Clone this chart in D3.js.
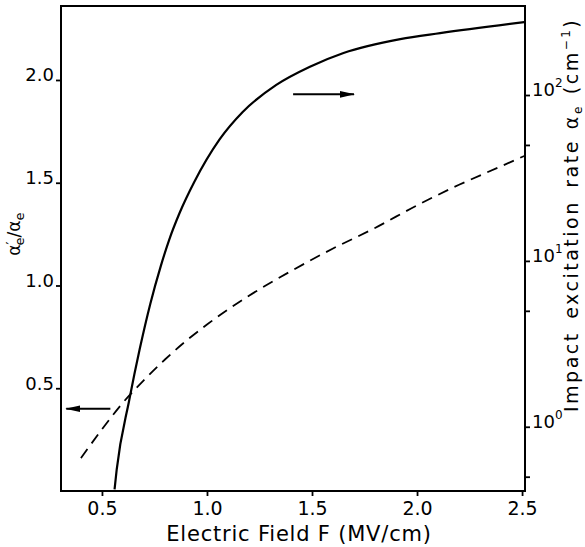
<!DOCTYPE html>
<html>
<head>
<meta charset="utf-8">
<script src="https://cdn.jsdelivr.net/npm/d3@7"></script>
<style>
body { margin: 0; background: #fff; }
text { font-family: "DejaVu Sans", sans-serif; fill: #000; }
</style>
</head>
<body>
<svg id="chart" width="585" height="547"></svg>
<script>
// solid curve: impact excitation rate alpha_e (cm^-1) vs field F (MV/cm), right log axis
const fieldSolid = [0.56, 0.57, 0.63, 0.68, 0.73, 0.78, 0.82, 0.87, 0.94, 1.06, 1.17, 1.33, 1.49, 1.65, 1.92, 2.11, 2.51];
const alphaE = [0.42, 0.55, 1.45, 2.95, 5.5, 9.3, 13.4, 19.5, 30, 54, 79, 115, 148, 179, 217, 236, 275];

// dashed curve: alpha'_e / alpha_e, left linear axis
const fieldDashed = [0.4, 0.5, 0.6, 0.7, 0.8, 0.9, 1.0, 1.2, 1.4, 1.6, 1.8, 2.0, 2.2, 2.4, 2.51];
const ratio = [0.16, 0.30, 0.43, 0.54, 0.64, 0.73, 0.81, 0.95, 1.07, 1.18, 1.28, 1.39, 1.49, 1.58, 1.63];

const xTicks = [0.5, 1.0, 1.5, 2.0, 2.5];
const leftTicks = [0.5, 1.0, 1.5, 2.0];
const rightMajor = [1, 10, 100];
const rightMinor = [0.5, 5, 50];

// arrows: [F from, F to, level on left axis]
const arrowRight = [1.41, 1.70, 1.93];
const arrowLeft = [0.54, 0.33, 0.40];

const xLabel = "Electric Field F (MV/cm)";

// frame edges in px
const frameL = 61, frameR = 525, frameT = 6, frameB = 491;

const svg = d3.select("#chart");

const x = d3.scaleLinear().domain([0.305, 2.514]).range([frameL, frameR]);
const yL = d3.scaleLinear().domain([0, 2.36]).range([frameB, frameT]);
const yR = d3.scaleLog().domain([0.41, 344]).range([frameB, frameT]);

// bottom axis
const gx = svg.append("g")
    .attr("transform", "translate(0," + frameB + ")")
    .call(d3.axisBottom(x).tickValues(xTicks).tickSize(5).tickSizeOuter(0)
          .tickPadding(6).tickFormat(d3.format(".1f")));
gx.select(".domain").remove();
gx.selectAll("line").attr("stroke-width", 1.8);
gx.selectAll("text").attr("font-size", 19).attr("font-family", null);

// left axis
const gl = svg.append("g")
    .attr("transform", "translate(" + frameL + ",0)")
    .call(d3.axisLeft(yL).tickValues(leftTicks).tickSize(5).tickSizeOuter(0)
          .tickPadding(2).tickFormat(d3.format(".1f")));
gl.select(".domain").remove();
gl.selectAll("line").attr("stroke-width", 1.8);
gl.selectAll("text").attr("font-size", 18).attr("dy", "0.05em").attr("font-family", null);

// right axis (log)
const gr = svg.append("g")
    .attr("transform", "translate(" + frameR + ",0)")
    .call(d3.axisRight(yR).tickValues(rightMinor.concat(rightMajor)).tickSize(5)
          .tickSizeOuter(0).tickFormat(""));
gr.select(".domain").remove();
gr.selectAll("line").attr("stroke-width", 1.8);

const rlab = gr.selectAll(".rlab")
    .data(rightMajor)
    .join("text")
    .attr("class", "rlab")
    .attr("x", 7)
    .attr("y", d => yR(d))
    .attr("dy", "0.05em")
    .attr("font-size", 18)
    .text("10");
rlab.append("tspan")
    .attr("font-size", 12)
    .attr("dy", -9)
    .text(d => Math.round(Math.log10(d)));

// frame
svg.append("rect")
    .attr("x", frameL).attr("y", frameT)
    .attr("width", frameR - frameL).attr("height", frameB - frameT)
    .attr("fill", "none").attr("stroke", "#000").attr("stroke-width", 2);

// curves
const solidLine = d3.line()
    .x(d => x(d[0])).y(d => yR(d[1]))
    .curve(d3.curveMonotoneX);

svg.append("path")
    .attr("d", solidLine(d3.zip(fieldSolid, alphaE)))
    .attr("fill", "none").attr("stroke", "#000").attr("stroke-width", 2.2);

const dashedLine = d3.line()
    .x(d => x(d[0])).y(d => yL(d[1]))
    .curve(d3.curveMonotoneX);

svg.append("path")
    .attr("d", dashedLine(d3.zip(fieldDashed, ratio)))
    .attr("fill", "none").attr("stroke", "#000").attr("stroke-width", 1.8)
    .attr("stroke-dasharray", "11,7");

// arrows
svg.append("defs").append("marker")
    .attr("id", "head")
    .attr("markerUnits", "userSpaceOnUse")
    .attr("markerWidth", 15).attr("markerHeight", 8)
    .attr("refX", 14).attr("refY", 4)
    .attr("orient", "auto")
    .append("path")
    .attr("d", "M0,0.7 L15,4 L0,7.3 Z")
    .attr("fill", "#000");

[arrowRight, arrowLeft].forEach(a => {
    svg.append("line")
        .attr("x1", x(a[0])).attr("x2", x(a[1]))
        .attr("y1", yL(a[2])).attr("y2", yL(a[2]))
        .attr("stroke", "#000").attr("stroke-width", 2)
        .attr("marker-end", "url(#head)");
});

// x axis title
svg.append("text")
    .attr("x", (frameL + frameR) / 2 + 6)
    .attr("y", frameB + 50)
    .attr("text-anchor", "middle")
    .attr("font-size", 21)
    .attr("letter-spacing", 0.8)
    .text(xLabel);

// left axis title: alpha'_e / alpha_e
const lt = svg.append("text")
    .attr("transform", "translate(20," + yL(1.25) + ") rotate(-90)")
    .attr("text-anchor", "middle")
    .attr("font-size", 17)
    .text("α");
lt.append("tspan").attr("dy", -5).attr("font-size", 13).text("′");
lt.append("tspan").attr("dx", -4).attr("dy", 9).attr("font-size", 13).text("e");
lt.append("tspan").attr("dy", -4).text("/α");
lt.append("tspan").attr("dy", 4).attr("font-size", 13).text("e");

// right axis title
const rt = svg.append("text")
    .attr("transform", "translate(578,412) rotate(-90)")
    .attr("font-size", 19)
    .attr("letter-spacing", 2.5)
    .attr("word-spacing", 4)
    .text("Impact excitation rate");
rt.append("tspan").attr("dx", 10).text("α");
rt.append("tspan").attr("dy", 4).attr("font-size", 12).text("e");
rt.append("tspan").attr("dx", 10).attr("dy", -4).text("(cm");
rt.append("tspan").attr("dy", -8).attr("font-size", 12).text("−1");
rt.append("tspan").attr("dy", 8).text(")");
</script>
</body>
</html>
